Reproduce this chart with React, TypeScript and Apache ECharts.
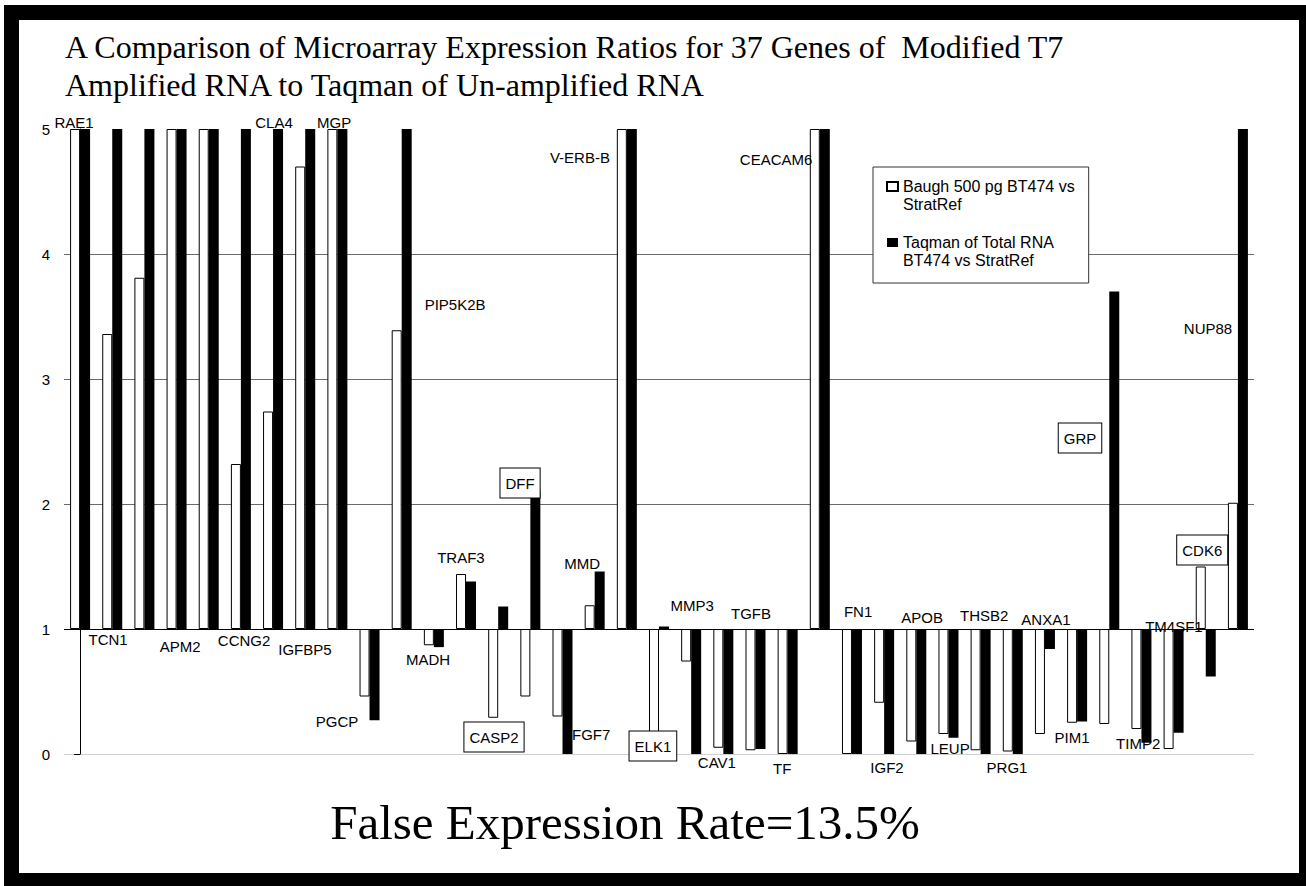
import React, { useEffect, useRef } from "react";
import * as echarts from "echarts";

// Genes in plotting order ("" = pair of bars without a printed gene name)
const genes: string[] = [
  "RAE1", "TCN1", "", "APM2", "", "CCNG2", "CLA4", "IGFBP5", "MGP", "PGCP",
  "PIP5K2B", "MADH", "TRAF3", "CASP2", "DFF", "FGF7", "MMD", "V-ERB-B", "ELK1", "MMP3",
  "CAV1", "TGFB", "TF", "CEACAM6", "FN1", "IGF2", "APOB", "LEUP", "THSB2", "PRG1",
  "ANXA1", "PIM1", "GRP", "TIMP2", "TM4SF1", "CDK6", "NUP88",
];

// Microarray ratios (Baugh 500 pg BT474 vs StratRef), capped at the axis top (5)
const baughValues: number[] = [
  5, 3.36, 3.81, 5, 5, 2.32, 2.74, 4.7, 5, 0.46,
  3.39, 0.87, 1.44, 0.29, 0.46, 0.3, 1.19, 5, 0.14, 0.74,
  0.05, 0.03, 0.0, 5, 0.0, 0.41, 0.1, 0.16, 0.03, 0.02,
  0.16, 0.25, 0.24, 0.2, 0.04, 1.5, 2.01,
];

// Taqman ratios (Total RNA BT474 vs StratRef), capped at the axis top (5)
const taqmanValues: number[] = [
  5, 5, 5, 5, 5, 5, 5, 5, 5, 0.27,
  5, 0.855, 1.38, 1.18, 2.11, 0.0, 1.46, 5, 1.02, 0.0,
  0.0, 0.04, 0.0, 5, 0.0, 0.0, 0.0, 0.13, 0.0, 0.0,
  0.84, 0.26, 3.7, 0.09, 0.17, 0.62, 5,
];

// Ratio at which bars start
const baselineRatio = 1;

// Y axis ticks
const yTicks: number[] = [0, 1, 2, 3, 4, 5];

// Annotation anchors for gene names: [category position, ratio]
const geneLabelAnchors: ([number, number] | null)[] = [
  [-0.19, 5.05], [0.87, 0.92], null, [3.11, 0.864], null, [5.1, 0.912], [6.03, 5.05], [6.99, 0.84], [7.9, 5.05], [7.99, 0.264],
  [11.66, 3.6], [10.82, 0.76], [11.84, 1.576], [12.87, 0.136], [13.68, 2.168], [15.89, 0.16], [15.61, 1.528], [15.54, 4.776], [17.81, 0.064], [19.03, 1.192],
  [19.8, -0.064], [20.86, 1.128], [21.83, -0.112], [21.64, 4.76], [24.19, 1.144], [25.09, -0.104], [26.18, 1.096], [27.05, 0.048], [28.11, 1.112], [28.82, -0.104],
  [30.03, 1.08], [30.84, 0.136], [31.09, 2.528], [32.9, 0.088], [34.01, 1.024], [34.89, 1.632], [35.07, 3.408],
];

// Gene names printed inside a box
const boxedGenes: string[] = ["CASP2", "DFF", "ELK1", "GRP", "CDK6"];

const seriesNames: string[] = [
  "Baugh 500 pg BT474 vs\nStratRef",
  "Taqman of Total RNA\nBT474 vs StratRef",
];

const titleText =
  "A Comparison of Microarray Expression Ratios for 37 Genes of  Modified T7\nAmplified RNA to Taqman of Un-amplified RNA";
const footerText = "False Expression Rate=13.5%";

const SANS = "'Liberation Sans', Arial, sans-serif";
const SERIF = "'Liberation Serif', 'Times New Roman', serif";

export default function App() {
  const ref = useRef<HTMLDivElement>(null);

  useEffect(() => {
    if (!ref.current) return;
    const chart = echarts.init(ref.current, null, { renderer: "svg" });

    const categories = genes.map((g, i) => (g ? g : `unlabelled ${i + 1}`));
    const baseOf = (v: number) => Math.min(v, baselineRatio);
    const lenOf = (v: number) => Math.abs(v - baselineRatio);

    const labelData = genes
      .map((g, i) => {
        const a = geneLabelAnchors[i];
        if (!g || !a) return null;
        const boxed = boxedGenes.includes(g);
        return {
          name: g,
          value: [a[0], a[1]],
          label: boxed
            ? {
                borderColor: "#000",
                borderWidth: 1,
                backgroundColor: "#fff",
                padding: [6, 5, 5, 5],
              }
            : undefined,
        };
      })
      .filter((d) => d !== null);

    const option: any = {
      animation: false,
      title: {
        text: titleText,
        left: 65,
        top: 28,
        padding: 0,
        textStyle: {
          fontFamily: SERIF,
          fontSize: 32,
          fontWeight: "normal",
          color: "#000",
          lineHeight: 38,
        },
      },
      legend: {
        orient: "vertical",
        left: 873,
        top: 167,
        padding: [10, 14, 14, 13],
        itemGap: 20,
        itemWidth: 11,
        itemHeight: 26,
        icon: "path://M0,0H11V9H0Z M0,26L0,26",
        backgroundColor: "#fff",
        borderColor: "#333",
        borderWidth: 1,
        borderRadius: 0,
        selectedMode: false,
        textStyle: { fontFamily: SANS, fontSize: 16, lineHeight: 18, color: "#000" },
        data: seriesNames,
      },
      grid: {
        left: 64,
        right: 52,
        top: 129,
        bottom: 132,
        containLabel: false,
        outerBoundsMode: "none",
      },
      xAxis: [
        {
          type: "category",
          data: categories,
          boundaryGap: true,
          axisLine: { show: false },
          axisTick: { show: false },
          axisLabel: { show: false },
          splitLine: { show: false },
        },
        {
          type: "value",
          min: -0.5,
          max: genes.length - 0.5,
          show: false,
          splitLine: { show: false },
        },
      ],
      yAxis: {
        type: "value",
        min: yTicks[0],
        max: yTicks[yTicks.length - 1],
        interval: 1,
        axisLine: { show: true, lineStyle: { color: "#000", width: 1 } },
        axisTick: { show: true, length: 6, lineStyle: { color: "#000" } },
        axisLabel: {
          color: "#000",
          fontFamily: SANS,
          fontSize: 15,
          margin: 14,
        },
        splitLine: {
          show: true,
          showMinLine: true,
          showMaxLine: true,
          lineStyle: {
            color: ["#cfcfcf", "#000000", "#6a6a6a", "#6a6a6a", "#6a6a6a", "rgba(0,0,0,0)"],
            width: 1,
          },
        },
      },
      series: [
        {
          name: "baugh-base",
          type: "bar",
          stack: "baugh",
          barWidth: 10,
          barGap: "0%",
          silent: true,
          itemStyle: { color: "rgba(0,0,0,0)" },
          emphasis: { disabled: true },
          data: baughValues.map(baseOf),
        },
        {
          name: seriesNames[0],
          type: "bar",
          stack: "baugh",
          barWidth: 10,
          barGap: "0%",
          itemStyle: { color: "#ffffff", borderColor: "#000000", borderWidth: 1 },
          emphasis: { disabled: true },
          data: baughValues.map(lenOf),
        },
        {
          name: "taqman-base",
          type: "bar",
          stack: "taqman",
          barWidth: 10,
          barGap: "0%",
          silent: true,
          itemStyle: { color: "rgba(0,0,0,0)" },
          emphasis: { disabled: true },
          data: taqmanValues.map(baseOf),
        },
        {
          name: seriesNames[1],
          type: "bar",
          stack: "taqman",
          barWidth: 10,
          barGap: "0%",
          itemStyle: { color: "#000000" },
          emphasis: { disabled: true },
          data: taqmanValues.map(lenOf),
        },
        {
          name: "gene names",
          type: "scatter",
          xAxisIndex: 1,
          yAxisIndex: 0,
          symbolSize: 0,
          clip: false,
          silent: true,
          z: 10,
          itemStyle: { color: "rgba(0,0,0,0)", opacity: 1 },
          label: {
            show: true,
            position: "inside",
            formatter: "{b}",
            color: "#000",
            opacity: 1,
            textBorderWidth: 0,
            textBorderColor: "transparent",
            fontFamily: SANS,
            fontSize: 15,
            lineHeight: 18,
          },
          data: labelData,
        },
      ],
      graphic: [
        {
          type: "text",
          x: 625,
          y: 822,
          style: {
            text: footerText,
            fill: "#000",
            fontFamily: SERIF,
            fontSize: 49,
            align: "center",
            verticalAlign: "middle",
          },
        },
      ],
    };

    chart.setOption(option);
    return () => chart.dispose();
  }, []);

  return (
    <div
      style={{
        position: "fixed",
        left: 0,
        top: 0,
        width: 1306,
        height: 886,
        background: "#fff",
        overflow: "hidden",
      }}
    >
      <div
        style={{
          position: "absolute",
          left: 4,
          top: 5,
          width: 1302,
          height: 881,
          boxSizing: "border-box",
          borderStyle: "solid",
          borderColor: "#000",
          borderWidth: "15px 7px 13px 15px",
        }}
      />
      <div
        ref={ref}
        style={{ position: "absolute", left: 0, top: 0, width: 1306, height: 886 }}
      />
    </div>
  );
}
